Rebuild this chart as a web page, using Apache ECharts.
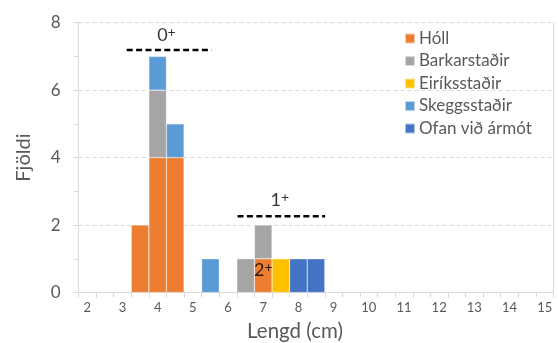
<!DOCTYPE html>
<html><head><meta charset="utf-8">
<script src="https://cdn.jsdelivr.net/npm/echarts@6/dist/echarts.min.js"></script>
<style>html,body{margin:0;padding:0;background:#fff}#c{width:558px;height:343px}</style>
</head><body><div id="c"></div>
<script>
var categories = ['2','2.5','3','3.5','4','4.5','5','5.5','6','6.5','7','7.5','8','8.5','9','9.5','10','10.5','11','11.5','12','12.5','13','13.5','14','14.5','15'];
var holl        = [0,0,0,2,4,4,0,0,0,0,1,0,0,0,0,0,0,0,0,0,0,0,0,0,0,0,0];
var barkar      = [0,0,0,0,2,0,0,0,0,1,1,0,0,0,0,0,0,0,0,0,0,0,0,0,0,0,0];
var eiriks      = [0,0,0,0,0,0,0,0,0,0,0,1,0,0,0,0,0,0,0,0,0,0,0,0,0,0,0];
var skegg       = [0,0,0,0,1,1,0,1,0,0,0,0,0,0,0,0,0,0,0,0,0,0,0,0,0,0,0];
var ofan        = [0,0,0,0,0,0,0,0,0,0,0,0,1,1,0,0,0,0,0,0,0,0,0,0,0,0,0];
var seriesNames = ['Hóll','Barkarstaðir','Eiríksstaðir','Skeggsstaðir','Ofan við ármót'];
var yTicks = [0,2,4,6,8];
// annotations in (cm, count) units
var ageLine0 = [[3.12,7.19],[5.53,7.19]];
var ageLine1 = [[6.27,2.26],[8.76,2.26]];
var ageLabels = [[4.25,7.63,'0'],[7.47,2.74,'1'],[7.0,0.66,'2']];

var colors = ['#ED7D31','#A5A5A5','#FFC000','#5B9BD5','#4472C4'];
var font = 'Lato, "Open Sans", sans-serif';
var chart = echarts.init(document.getElementById('c'));
var values = [holl,barkar,eiriks,skegg,ofan];
var series = values.map(function(d,i){
  return {name:seriesNames[i], type:'bar', stack:'a', data:d.map(function(v){return v===0?null:v;}),
    barCategoryGap:'0%', itemStyle:{color:colors[i], borderColor:'rgba(255,255,255,0.6)', borderWidth:0.5}, xAxisIndex:0, yAxisIndex:0};
});
var dashStyle = {color:'#000', width:2.6, type:[6,3.4]};
series.push({type:'line', xAxisIndex:1, yAxisIndex:0, data:ageLine0, symbol:'none', lineStyle:dashStyle, silent:true, z:10});
series.push({type:'line', xAxisIndex:1, yAxisIndex:0, data:ageLine1, symbol:'none', lineStyle:dashStyle, silent:true, z:10});
series.push({type:'scatter', xAxisIndex:1, yAxisIndex:0, symbolSize:0, z:11, silent:true,
  data:ageLabels.map(function(a){return {value:[a[0],a[1]], name:a[2]};}),
  label:{show:true, position:'inside', formatter:'{a|{b}}{p|+}',
    rich:{a:{color:'#000', fontSize:18, fontFamily:font, lineHeight:20},
          p:{color:'#000', fontSize:14, fontFamily:font, verticalAlign:'top', lineHeight:12, padding:[0,0,0,0]}}}});

chart.setOption({
  animation:false,
  color:colors,
  grid:{left:78.5, right:4.5, top:22.7, bottom:50.5, outerBoundsMode:'none', containLabel:false},
  legend:{data:seriesNames, orient:'vertical', left:399, top:25, itemWidth:10, itemHeight:10, itemGap:5.5,
    icon:'rect', textStyle:{fontSize:17, color:'#595959', fontFamily:font, padding:[0,0,0,-1]}},
  xAxis:[{type:'category', data:categories, boundaryGap:true,
    name:'Lengd (cm)', nameLocation:'middle', nameGap:28,
    nameTextStyle:{fontSize:20.5, color:'#595959', fontFamily:font, padding:[0,42,0,0]},
    axisLine:{lineStyle:{color:'#D9D9D9', width:1}},
    axisTick:{show:true, interval:0, length:5, lineStyle:{color:'#D9D9D9'}},
    axisLabel:{interval:1, fontSize:13, color:'#595959', fontFamily:font, margin:9},
    splitLine:{show:false}},
   {type:'value', min:1.75, max:15.25, show:false}],
  yAxis:[{type:'value', min:0, max:8, interval:2,
    name:'Fjöldi', nameLocation:'middle', nameGap:45,
    nameTextStyle:{fontSize:20, color:'#595959', fontFamily:font},
    axisLine:{show:true, lineStyle:{color:'#D9D9D9'}},
    axisTick:{show:true, length:5, lineStyle:{color:'#D9D9D9'}},
    minorTick:{show:true, splitNumber:2, length:5, lineStyle:{color:'#D9D9D9'}},
    axisLabel:{fontSize:17, color:'#595959', fontFamily:font, margin:18,
      formatter:function(v){return yTicks.indexOf(v)>=0?String(v):'';}},
    splitLine:{show:true, lineStyle:{color:'#D9D9D9', type:[4,3]}}},
   {type:'value', min:0, max:8, interval:2, position:'right',
    axisLine:{show:true, lineStyle:{color:'#D9D9D9'}}, axisTick:{show:false}, axisLabel:{show:false}, splitLine:{show:false}}],
  series:series
});
</script></body></html>
